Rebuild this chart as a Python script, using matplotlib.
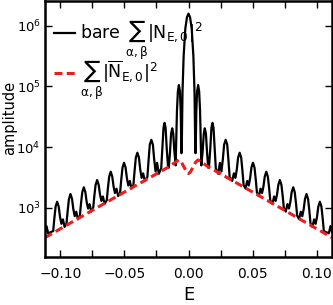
import matplotlib
matplotlib.use('Agg')
import matplotlib.pyplot as plt
from matplotlib.ticker import MultipleLocator, LogLocator, NullLocator

# left half of the bare spectrum (the curve is mirror symmetric around E=0)
energy_left = [
    -0.1120, -0.1108, -0.1095,
    -0.1056, -0.1047, -0.1037, -0.1025, -0.1013, -0.1003, -0.0992, -0.0980, -0.0967,
    -0.0952, -0.0943, -0.0933, -0.0921, -0.0909, -0.0899, -0.0888, -0.0876, -0.0863,
    -0.0848, -0.0839, -0.0829, -0.0817, -0.0805, -0.0795, -0.0784, -0.0772, -0.0759,
    -0.0744, -0.0735, -0.0725, -0.0713, -0.0701, -0.0691, -0.0680, -0.0668, -0.0655,
    -0.0638, -0.0629, -0.0619, -0.0607, -0.0595, -0.0585, -0.0574, -0.0562, -0.0549,
    -0.0534, -0.0525, -0.0515, -0.0503, -0.0491, -0.0481, -0.0470, -0.0458, -0.0445,
    -0.0430, -0.0421, -0.0411, -0.0399, -0.0387, -0.0377, -0.0366, -0.0354, -0.0341,
    -0.0321, -0.0312, -0.0302, -0.0290, -0.0278, -0.0268, -0.0257, -0.0245, -0.0232,
    -0.0213, -0.0204, -0.0195, -0.0187, -0.0179, -0.0170, -0.0160, -0.0154,
    -0.0145, -0.0136, -0.0127, -0.0119, -0.0111, -0.0100,
    -0.0096, -0.0090, -0.0083, -0.0075, -0.0067, -0.0061, -0.0057, -0.0055,
    -0.0052, -0.0047, -0.0038, -0.0025, -0.0012, 0.0,
]
bare_left = [
    400, 500, 380,
    415, 670, 1050, 1260, 1050, 715, 545, 645, 485,
    555, 893, 1400, 1690, 1400, 957, 728, 863, 649,
    741, 1175, 1810, 2180, 1810, 1260, 973, 1150, 867,
    991, 1560, 2390, 2870, 2390, 1670, 1300, 1540, 1160,
    1330, 2110, 3270, 3940, 3270, 2260, 1750, 2070, 1560,
    1780, 2890, 4600, 5530, 4600, 3100, 2330, 2770, 2080,
    2380, 4030, 6730, 8090, 6730, 4310, 3120, 3700, 2780,
    3220, 5930, 11000, 13200, 11000, 6340, 3980, 5500, 3630,
    4470, 9550, 20900, 25100, 20900, 9550, 4790, 4570,
    7940, 16600, 20400, 16600, 8910, 5000,
    12600, 40000, 83000, 105000, 83000, 40000, 12600, 7940,
    12600, 79400, 316000, 891000, 1380000, 1580000,
]

# left half of the dressed spectrum
energy_red_left = [-0.112, -0.09, -0.07, -0.05, -0.03, -0.015, -0.010,
                   -0.0075, -0.0055, -0.0035, -0.0015, 0.0]
dressed_left = [324, 598, 1047, 1820, 3160, 4790, 5690,
                6170, 5620, 4680, 3890, 3670]


def mirror(xs, ys):
    xs_full = list(xs) + [-x for x in reversed(xs[:-1])]
    ys_full = list(ys) + list(reversed(ys[:-1]))
    return xs_full, ys_full


energy, bare = mirror(energy_left, bare_left)
energy_red, dressed = mirror(energy_red_left, dressed_left)

plt.rcParams['mathtext.default'] = 'regular'

fig = plt.figure(figsize=(3.33, 3.05), dpi=100)
ax = fig.add_axes([0.1351, 0.1574, 0.862, 0.8393])

ax.plot(energy, bare, color='black', lw=1.6,
        label=r'bare $\sum_{\alpha,\beta}|N_{E,0}|^2$')
ax.plot(energy_red, dressed, color='#ee1c1c', lw=2.2, ls=(0, (2.6, 1.4)),
        label=r'$\sum_{\alpha,\beta}|\overline{N}_{E,0}|^2$')

ax.set_yscale('log')
ax.set_xlim(-0.112, 0.112)
ax.set_ylim(155, 2.55e6)

ax.xaxis.set_major_locator(MultipleLocator(0.05))
ax.xaxis.set_minor_locator(MultipleLocator(0.025))
ax.yaxis.set_major_locator(LogLocator(base=10))
ax.yaxis.set_minor_locator(NullLocator())

ax.tick_params(which='both', direction='in', top=True, right=True,
               length=5, width=1, labelsize=10)
ax.tick_params(axis='x', pad=7)
ax.tick_params(axis='y', labelsize=9.5, pad=3)
for s in ax.spines.values():
    s.set_linewidth(1.8)

ax.set_xlabel('E', fontsize=13)
ax.xaxis.set_label_coords(0.5, -0.112)
ax.set_ylabel('amplitude', fontsize=10.5)
ax.yaxis.set_label_coords(-0.098, 0.543)

ax.legend(loc='upper left', bbox_to_anchor=(-0.005, 0.97), frameon=False,
          fontsize=12.5, handlelength=1.2, handletextpad=0.3,
          borderaxespad=0.2, labelspacing=-0.2)

fig.savefig('out.png', dpi=100)
